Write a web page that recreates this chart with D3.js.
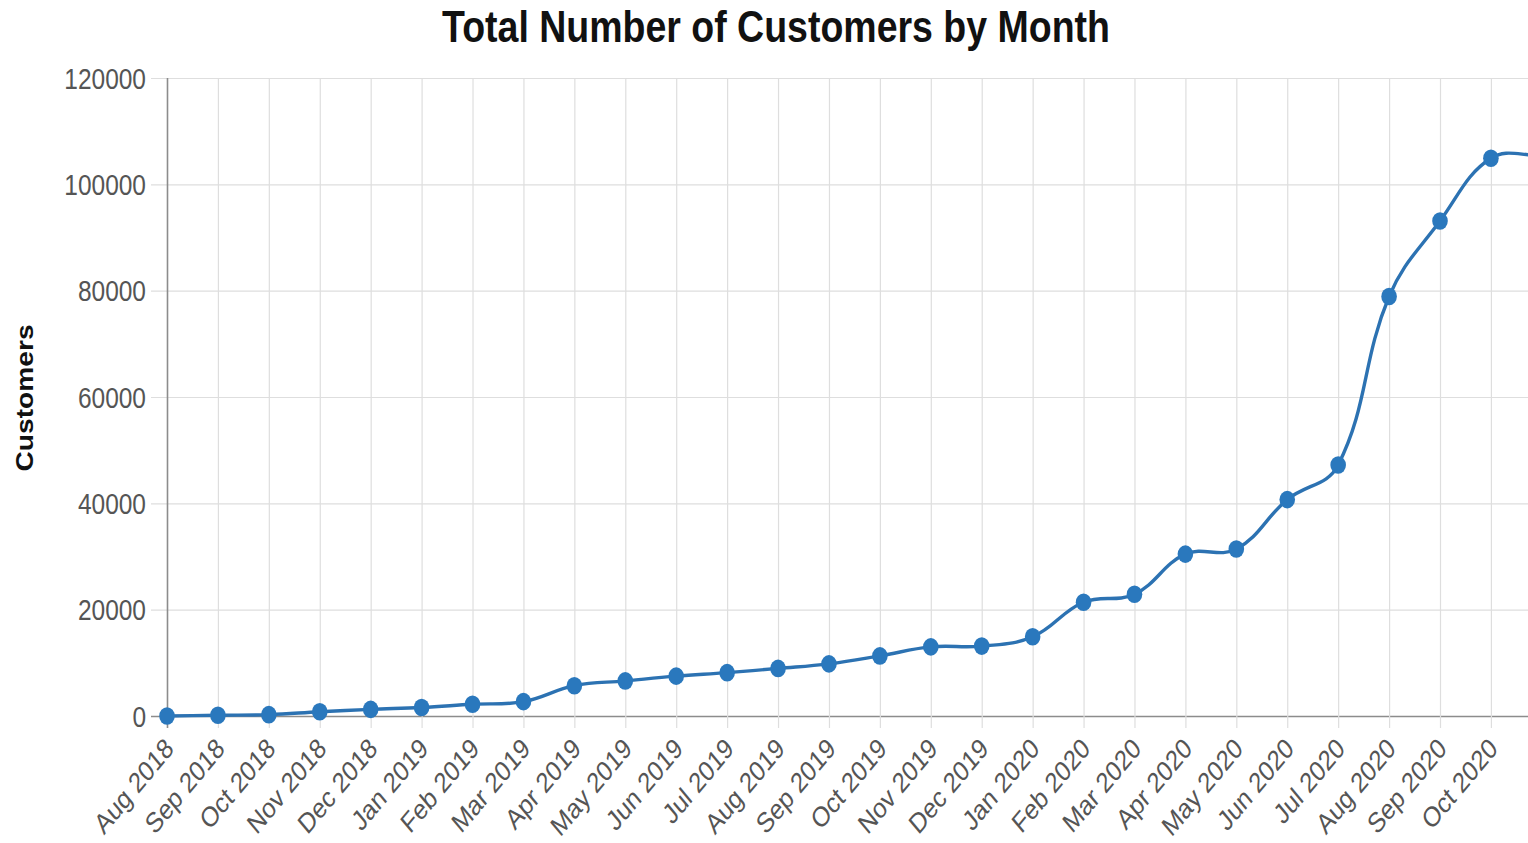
<!DOCTYPE html>
<html>
<head>
<meta charset="utf-8">
<script src="https://cdn.jsdelivr.net/npm/d3@7"></script>
<style>
  html, body { margin: 0; padding: 0; background: #ffffff; overflow: hidden; }
  svg { display: block; font-family: "Liberation Sans", Arial, Helvetica, sans-serif; }
</style>
</head>
<body>
<svg id="chart" width="1528" height="843"></svg>
<script>
// Monthly customer totals
const months = [
  "Aug 2018", "Sep 2018", "Oct 2018", "Nov 2018", "Dec 2018",
  "Jan 2019", "Feb 2019", "Mar 2019", "Apr 2019", "May 2019", "Jun 2019",
  "Jul 2019", "Aug 2019", "Sep 2019", "Oct 2019", "Nov 2019", "Dec 2019",
  "Jan 2020", "Feb 2020", "Mar 2020", "Apr 2020", "May 2020", "Jun 2020",
  "Jul 2020", "Aug 2020", "Sep 2020", "Oct 2020", "Nov 2020"
];
const customers = [
  0, 150, 250, 800, 1250,
  1600, 2200, 2700, 5700, 6600, 7500,
  8150, 8950, 9800, 11300, 13000, 13150,
  14900, 21400, 22900, 30450, 31400, 40700,
  47200, 78900, 93100, 104900, 105500
];
const yTicks = [0, 20000, 40000, 60000, 80000, 100000, 120000];
// Months that carry an axis label (the running month is left unlabeled)
const labeledMonths = months.slice(0, 27);

const chartTitle = "Total Number of Customers by Month";
const yTitle = "Customers";

const svg = d3.select("#chart");
const TEXT_STRETCH = 1.2;   // labels are drawn taller than wide

const plot = { left: 167, top: 78, bottom: 716, step: 50.92 };

const x = d3.scalePoint()
  .domain(months)
  .range([plot.left, plot.left + plot.step * (months.length - 1)]);

const y = d3.scaleLinear()
  .domain([0, 120000])
  .range([plot.bottom, plot.top]);

const xEnd = x.range()[1];

// Horizontal grid + tick marks left of the y axis
const gridY = svg.append("g");
gridY.selectAll("line")
  .data(yTicks)
  .join("line")
  .attr("x1", plot.left - 16)
  .attr("x2", xEnd)
  .attr("y1", d => y(d) + 0.5)
  .attr("y2", d => y(d) + 0.5)
  .attr("stroke", d => d === 0 ? "#8c8c8c" : "#dedede")
  .attr("stroke-width", d => d === 0 ? 1.6 : 1.2);

// Vertical grid + tick marks below the x axis
const gridX = svg.append("g");
gridX.selectAll("line")
  .data(months)
  .join("line")
  .attr("x1", d => x(d) + 0.5)
  .attr("x2", d => x(d) + 0.5)
  .attr("y1", plot.top)
  .attr("y2", plot.bottom + 12)
  .attr("stroke", (d, i) => i === 0 ? "#8c8c8c" : "#dedede")
  .attr("stroke-width", (d, i) => i === 0 ? 1.6 : 1.2);

// Y tick labels
svg.append("g")
  .selectAll("text")
  .data(yTicks)
  .join("text")
  .attr("transform", d => `translate(${plot.left - 21},${y(d)}) scale(1,${TEXT_STRETCH})`)
  .attr("text-anchor", "end")
  .attr("dy", "0.36em")
  .attr("font-size", 24.5)
  .attr("fill", "#555")
  .text(d => d);

// X tick labels, rotated
svg.append("g")
  .selectAll("text")
  .data(labeledMonths)
  .join("text")
  .attr("transform", d => `translate(${x(d) + 2},${plot.bottom + 27}) scale(1,${TEXT_STRETCH}) rotate(-45)`)
  .attr("text-anchor", "end")
  .attr("dy", "0.36em")
  .attr("font-size", 23.5)
  .attr("fill", "#555")
  .text(d => d);

// Title
svg.append("text")
  .attr("transform", `translate(776,42) scale(1,${TEXT_STRETCH})`)
  .attr("text-anchor", "middle")
  .attr("font-size", 37.5)
  .attr("font-weight", "bold")
  .attr("fill", "#111")
  .text(chartTitle);

// Y axis title
svg.append("text")
  .attr("transform", `translate(33,398) scale(1,${TEXT_STRETCH}) rotate(-90)`)
  .attr("text-anchor", "middle")
  .attr("font-size", 23.5)
  .attr("font-weight", "bold")
  .attr("fill", "#111")
  .text(yTitle);

// Smoothed line: bezier control points weighted by neighbour distances
const pts = months.map((m, i) => [x(m), y(customers[i])]);
function splinePath(points, tension) {
  const p = d3.path();
  const n = points.length;
  const cps = points.map((cur, i) => {
    const prev = points[Math.max(i - 1, 0)];
    const next = points[Math.min(i + 1, n - 1)];
    const d01 = Math.hypot(cur[0] - prev[0], cur[1] - prev[1]);
    const d12 = Math.hypot(next[0] - cur[0], next[1] - cur[1]);
    const s01 = d01 / (d01 + d12 || 1);
    const s12 = d12 / (d01 + d12 || 1);
    const fa = tension * s01, fb = tension * s12;
    return {
      prev: [cur[0] - fa * (next[0] - prev[0]), cur[1] - fa * (next[1] - prev[1])],
      next: [cur[0] + fb * (next[0] - prev[0]), cur[1] + fb * (next[1] - prev[1])]
    };
  });
  p.moveTo(points[0][0], points[0][1]);
  for (let i = 1; i < n; i++) {
    const a = cps[i - 1].next, b = cps[i].prev;
    p.bezierCurveTo(a[0], a[1], b[0], b[1], points[i][0], points[i][1]);
  }
  return p.toString();
}

svg.append("path")
  .attr("d", splinePath(pts, 0.4))
  .attr("fill", "none")
  .attr("stroke", "#2c72b2")
  .attr("stroke-width", 3.4);

// Points
svg.append("g")
  .selectAll("ellipse")
  .data(customers)
  .join("ellipse")
  .attr("cx", (d, i) => x(months[i]))
  .attr("cy", d => y(d))
  .attr("rx", 7.8)
  .attr("ry", 8.8)
  .attr("fill", "#2a78bd");
</script>
</body>
</html>
